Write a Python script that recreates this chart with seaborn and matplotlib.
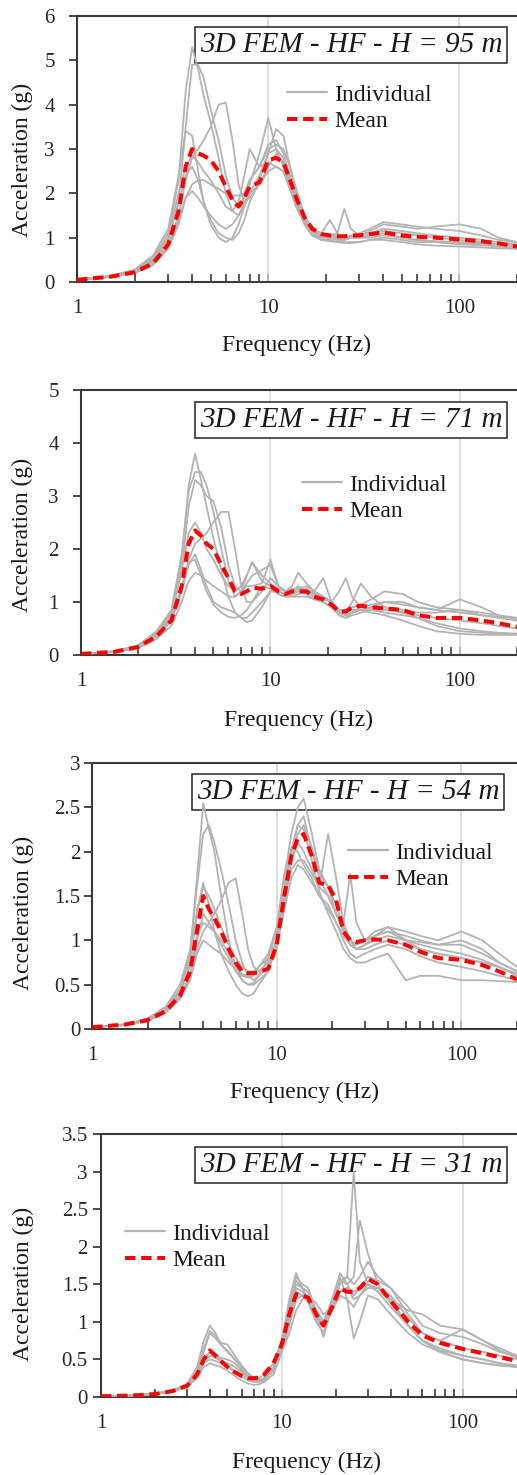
import numpy as np
import pandas as pd
import matplotlib
matplotlib.use("Agg")
import matplotlib.pyplot as plt
from matplotlib.lines import Line2D
from matplotlib.ticker import FixedLocator, LogLocator, NullFormatter
import seaborn as sns

# ---------------- data ----------------
freq = [1, 1.5, 2, 2.5, 3, 3.4, 3.7, 4, 4.3, 4.6, 5, 5.5, 6, 6.5, 7, 7.5, 8, 9, 10, 11,
        12, 13, 14, 15.5, 17, 19, 21, 23, 25, 27, 30, 34, 40, 50, 60, 75, 100, 130, 160, 200]

titles = ["3D FEM - HF - H = 95 m", "3D FEM - HF - H = 71 m",
          "3D FEM - HF - H = 54 m", "3D FEM - HF - H = 31 m"]
ymax = [6, 5, 3, 3.5]
ystep = [1, 1, 0.5, 0.5]
xticks = [1, 10, 100]
xticklabels = ["1", "10", "100"]

# H = 95 m
ind_95 = [
    [0.05,0.13,0.25,0.5,1.1,2.3,4.3,5.3,4.8,4.2,3.6,2.8,2.0,1.6,1.5,1.7,2.0,2.4,2.9,3.0,2.8,2.3,1.8,1.3,1.1,1.0,1.0,0.95,0.95,1.0,1.0,1.05,1.1,1.0,0.95,0.9,0.85,0.83,0.8,0.75],
    [0.05,0.12,0.23,0.45,0.95,1.8,3.5,4.9,4.9,4.6,3.9,3.2,2.4,1.9,1.7,1.9,2.3,2.6,3.1,3.2,2.9,2.4,1.9,1.4,1.15,1.05,1.05,1.0,1.0,1.02,1.05,1.1,1.15,1.1,1.05,1.0,0.95,0.9,0.85,0.8],
    [0.05,0.14,0.28,0.6,1.2,2.4,3.4,3.3,2.5,1.8,1.3,1.0,0.9,1.0,1.3,1.7,2.2,2.9,3.7,3.0,2.6,2.2,1.8,1.4,1.15,1.1,1.4,1.1,1.0,1.0,1.05,1.15,1.3,1.25,1.2,1.25,1.3,1.2,1.0,0.9],
    [0.05,0.12,0.22,0.42,0.85,1.5,2.3,2.8,3.0,3.2,3.5,4.0,4.05,3.2,2.2,1.8,1.9,2.2,2.6,2.9,2.7,2.2,1.8,1.35,1.1,1.0,1.0,0.95,0.95,1.0,1.0,1.0,1.05,1.0,0.95,0.92,0.9,0.88,0.85,0.8],
    [0.05,0.12,0.24,0.5,1.0,1.8,2.4,2.6,2.3,1.8,1.4,1.1,1.0,0.95,1.1,1.4,1.8,2.3,2.9,3.45,3.3,2.6,2.0,1.4,1.15,1.05,1.05,1.1,1.65,1.2,1.05,1.1,1.2,1.15,1.1,1.05,1.0,0.95,0.9,0.85],
    [0.05,0.11,0.2,0.38,0.75,1.3,1.9,2.2,2.3,2.3,2.2,2.1,2.0,1.95,1.95,2.0,2.3,2.6,2.7,2.6,2.5,2.1,1.7,1.3,1.05,0.95,0.95,0.9,0.9,0.9,0.9,0.95,0.95,0.9,0.85,0.82,0.8,0.78,0.76,0.75],
    [0.05,0.13,0.26,0.55,1.1,2.0,2.6,2.85,2.7,2.5,2.3,2.0,1.7,1.6,1.8,2.4,3.0,2.6,3.0,3.1,3.0,2.6,2.1,1.5,1.2,1.1,1.05,1.05,1.0,1.05,1.1,1.2,1.35,1.3,1.25,1.2,1.15,1.05,0.95,0.9],
    [0.05,0.12,0.22,0.4,0.8,1.4,1.9,2.05,1.9,1.7,1.5,1.3,1.2,1.3,1.5,1.8,2.0,2.2,2.5,2.6,2.5,2.1,1.7,1.3,1.05,0.95,0.92,0.9,0.88,0.88,0.9,0.95,1.0,0.95,0.9,0.9,0.88,0.86,0.85,0.82],
]
mean_95 = [0.05,0.12,0.22,0.42,0.85,1.6,2.6,3.0,2.9,2.85,2.75,2.5,2.15,1.85,1.7,1.9,2.15,2.25,2.75,2.8,2.7,2.3,1.9,1.45,1.2,1.08,1.05,1.03,1.03,1.05,1.05,1.08,1.12,1.05,1.02,1.0,0.96,0.92,0.87,0.8]

# H = 71 m
ind_71 = [
    [0.02,0.07,0.17,0.4,0.8,1.8,3.2,3.8,3.3,2.8,2.2,1.6,1.1,0.8,0.7,0.7,0.8,1.0,1.2,1.2,1.15,1.2,1.3,1.2,1.1,1.0,0.9,0.8,0.75,0.8,0.85,0.9,1.0,1.0,0.9,0.85,0.8,0.75,0.72,0.7],
    [0.02,0.07,0.18,0.45,0.85,1.9,3.1,3.45,3.45,3.2,2.7,2.0,1.4,1.1,1.2,1.5,1.75,1.4,1.3,1.15,1.1,1.15,1.2,1.15,1.05,1.0,0.9,0.75,0.7,0.75,0.8,0.85,0.85,0.8,0.75,0.7,0.65,0.6,0.55,0.5],
    [0.02,0.06,0.15,0.35,0.65,1.2,1.8,2.1,2.2,2.3,2.5,2.7,2.7,2.0,1.3,1.0,1.0,1.2,1.45,1.3,1.2,1.3,1.55,1.35,1.2,1.1,1.0,0.8,0.75,0.8,0.85,0.9,0.9,0.85,0.8,0.8,0.85,0.8,0.75,0.7],
    [0.02,0.06,0.16,0.38,0.75,1.6,2.8,3.3,3.2,3.0,2.9,2.4,1.7,1.3,1.2,1.35,1.5,1.6,1.7,1.3,1.2,1.2,1.25,1.3,1.2,1.1,1.0,1.2,1.45,1.1,0.9,0.85,0.8,0.75,0.7,0.6,0.5,0.45,0.42,0.4],
    [0.02,0.06,0.15,0.35,0.65,1.2,1.7,1.9,1.6,1.3,1.0,0.9,0.85,0.8,0.7,0.62,0.65,0.9,1.2,1.2,1.15,1.1,1.1,1.1,1.05,1.0,0.9,0.8,0.8,1.0,1.35,1.1,0.9,0.8,0.7,0.55,0.45,0.42,0.4,0.4],
    [0.02,0.05,0.13,0.3,0.55,1.0,1.4,1.55,1.5,1.4,1.3,1.2,1.1,1.1,1.2,1.3,1.3,1.35,1.8,1.3,1.2,1.2,1.2,1.25,1.15,1.05,1.0,0.85,0.85,0.9,0.95,1.05,1.2,1.15,1.0,0.9,0.85,0.75,0.7,0.65],
    [0.02,0.07,0.18,0.42,0.8,1.6,2.3,2.5,2.3,2.0,1.8,1.5,1.3,1.2,1.3,1.5,1.75,1.5,1.35,1.25,1.2,1.25,1.25,1.2,1.2,1.45,1.0,0.75,0.7,0.8,0.9,0.95,1.0,0.95,0.9,0.85,1.05,0.9,0.75,0.65],
    [0.02,0.06,0.15,0.36,0.7,1.3,1.75,1.8,1.5,1.2,0.95,0.8,0.72,0.7,0.75,0.85,1.0,1.3,1.25,1.15,1.1,1.1,1.15,1.2,1.15,1.1,1.0,0.85,0.8,0.85,0.85,0.8,0.75,0.65,0.55,0.45,0.4,0.38,0.38,0.38],
]
mean_71 = [0.02,0.06,0.15,0.35,0.65,1.3,2.1,2.35,2.25,2.1,2.0,1.7,1.45,1.2,1.15,1.2,1.27,1.25,1.3,1.2,1.15,1.2,1.2,1.2,1.1,1.05,0.95,0.82,0.82,0.9,0.93,0.9,0.88,0.85,0.75,0.7,0.7,0.65,0.6,0.53]

# H = 54 m
ind_54 = [
    [0.02,0.05,0.11,0.22,0.45,0.85,1.7,2.55,2.25,2.0,1.5,1.0,0.7,0.55,0.5,0.5,0.55,0.65,0.95,1.7,2.2,2.5,2.6,2.2,1.8,1.6,1.3,1.1,1.0,0.95,1.0,1.05,1.1,1.0,0.95,0.9,0.85,0.78,0.7,0.62],
    [0.02,0.05,0.12,0.25,0.5,0.9,1.6,2.2,2.3,2.1,1.8,1.4,1.0,0.75,0.6,0.55,0.6,0.7,1.0,1.6,2.0,2.3,2.4,2.0,1.7,1.5,1.3,1.1,0.95,0.9,0.95,1.05,1.15,1.1,1.05,1.0,1.1,1.0,0.85,0.7],
    [0.02,0.05,0.1,0.2,0.38,0.6,0.9,1.1,1.2,1.3,1.45,1.65,1.7,1.3,0.9,0.7,0.65,0.7,0.9,1.4,1.9,2.1,2.0,1.8,1.6,2.2,1.7,1.2,1.0,0.9,0.9,0.95,1.0,0.95,0.9,0.85,0.8,0.75,0.7,0.6],
    [0.02,0.05,0.1,0.2,0.4,0.75,1.3,1.65,1.4,1.1,0.85,0.65,0.5,0.4,0.37,0.4,0.5,0.65,0.95,1.45,1.8,1.9,1.9,1.75,1.6,1.5,1.3,1.2,1.75,1.2,1.0,1.1,1.15,1.0,0.9,0.85,0.8,0.75,0.7,0.62],
    [0.02,0.05,0.1,0.2,0.36,0.6,1.0,1.3,1.2,1.1,0.95,0.8,0.65,0.55,0.5,0.52,0.6,0.8,1.1,1.6,2.0,2.3,2.25,1.9,1.55,1.3,1.1,0.9,0.8,0.75,0.75,0.8,0.85,0.55,0.6,0.6,0.55,0.55,0.54,0.53],
    [0.02,0.04,0.09,0.18,0.34,0.55,0.85,1.0,0.95,0.9,0.85,0.75,0.68,0.62,0.6,0.62,0.65,0.75,0.95,1.35,1.7,1.85,1.8,1.65,1.5,1.4,1.2,1.0,0.85,0.8,0.85,0.9,0.95,0.9,0.82,0.75,0.7,0.65,0.6,0.55],
    [0.02,0.05,0.11,0.22,0.42,0.7,1.05,1.2,1.15,1.1,1.0,0.85,0.7,0.6,0.58,0.6,0.7,0.85,1.15,1.75,2.05,2.0,1.85,1.7,1.5,1.35,1.2,1.05,0.95,0.9,0.95,1.0,1.05,1.0,0.98,0.95,1.0,0.9,0.75,0.65],
    [0.02,0.05,0.11,0.23,0.45,0.8,1.35,1.6,1.5,1.35,1.15,0.95,0.8,0.7,0.65,0.65,0.7,0.8,1.0,1.5,1.9,2.2,2.3,2.05,1.75,1.6,1.4,1.15,1.0,0.95,1.0,1.05,1.1,1.05,1.0,0.95,0.95,0.85,0.75,0.65],
]
mean_54 = [0.02,0.05,0.1,0.2,0.38,0.65,1.1,1.5,1.35,1.25,1.1,0.9,0.75,0.65,0.63,0.63,0.64,0.68,0.95,1.5,1.95,2.15,2.2,1.95,1.65,1.62,1.45,1.1,1.0,0.98,1.0,1.01,1.0,0.95,0.87,0.8,0.78,0.72,0.65,0.56]

# H = 31 m
ind_31 = [
    [0.01,0.02,0.05,0.09,0.18,0.4,0.75,0.95,0.85,0.7,0.6,0.5,0.4,0.3,0.25,0.25,0.3,0.45,0.75,1.3,1.65,1.45,1.3,1.0,0.85,1.2,1.5,1.6,3.0,1.8,1.5,1.4,1.2,0.95,0.75,0.65,0.55,0.5,0.45,0.4],
    [0.01,0.02,0.04,0.08,0.16,0.35,0.65,0.88,0.82,0.72,0.7,0.55,0.42,0.32,0.25,0.22,0.25,0.4,0.7,1.25,1.6,1.5,1.45,1.15,1.0,1.3,1.55,1.5,1.6,2.35,1.9,1.5,1.25,0.95,0.75,0.6,0.5,0.45,0.42,0.4],
    [0.01,0.02,0.04,0.08,0.15,0.3,0.5,0.6,0.55,0.5,0.42,0.35,0.3,0.25,0.22,0.22,0.25,0.4,0.65,1.1,1.5,1.45,1.4,1.1,0.8,1.2,1.6,1.3,0.78,1.0,1.35,1.3,1.1,0.85,0.7,0.6,0.5,0.45,0.42,0.4],
    [0.01,0.02,0.04,0.08,0.15,0.3,0.45,0.5,0.48,0.45,0.4,0.33,0.27,0.22,0.2,0.2,0.24,0.35,0.6,0.95,1.3,1.35,1.35,1.15,1.0,1.25,1.55,1.6,1.5,1.6,1.8,1.6,1.45,1.1,0.85,0.75,0.65,0.6,0.55,0.5],
    [0.01,0.02,0.04,0.07,0.14,0.25,0.4,0.45,0.42,0.4,0.35,0.28,0.22,0.18,0.16,0.17,0.2,0.3,0.6,0.85,1.15,1.3,1.35,1.25,1.1,1.2,1.4,1.45,1.4,1.45,1.5,1.4,1.3,1.15,1.1,0.95,0.9,0.75,0.65,0.55],
    [0.01,0.02,0.04,0.08,0.16,0.33,0.6,0.85,0.78,0.7,0.62,0.5,0.38,0.28,0.22,0.2,0.22,0.35,0.65,1.2,1.55,1.45,1.4,1.1,0.95,1.3,1.65,1.5,1.35,1.45,1.6,1.55,1.45,1.2,0.95,0.85,0.8,0.7,0.6,0.55],
    [0.01,0.02,0.04,0.08,0.15,0.3,0.48,0.55,0.52,0.48,0.45,0.4,0.33,0.27,0.22,0.21,0.24,0.38,0.65,1.1,1.45,1.4,1.3,1.05,0.95,1.2,1.4,1.45,1.3,1.35,1.45,1.45,1.35,1.05,0.85,0.75,0.9,0.75,0.62,0.52],
    [0.01,0.02,0.04,0.08,0.15,0.3,0.5,0.6,0.57,0.52,0.5,0.45,0.35,0.27,0.22,0.2,0.22,0.35,0.6,1.0,1.4,1.35,1.25,1.0,0.95,1.15,1.35,1.3,1.2,1.35,1.5,1.45,1.3,0.95,0.75,0.62,0.55,0.5,0.45,0.42],
]
mean_31 = [0.01,0.02,0.04,0.08,0.15,0.3,0.5,0.62,0.55,0.48,0.4,0.33,0.28,0.25,0.25,0.26,0.3,0.45,0.7,1.1,1.37,1.35,1.32,1.1,0.95,1.2,1.45,1.4,1.4,1.45,1.57,1.5,1.28,1.0,0.82,0.72,0.64,0.58,0.53,0.48]

individuals = [ind_95, ind_71, ind_54, ind_31]
means = [mean_95, mean_71, mean_54, mean_31]

# ---------------- layout (pixels) ----------------
W, H = 517, 1475
ax_px = [(77, 16, 282), (81, 390, 655), (92, 763, 1029), (101, 1134, 1397)]  # left, top, bottom
title_c = [(351, 45), (351, 420), (348, 792), (351, 1165)]
leg_pos = [(287, 98), (302, 488), (348, 856), (125, 1237)]
ylab_c = [(22, 160), (22, 535), (23, 913), (23, 1284)]
xlab_c = [(296, 345), (298, 720), (304, 1092), (306, 1462)]
ypad = [10, 10, 2.5, 3.5]

sns.set_theme(style="ticks")
serif = ["Liberation Serif", "DejaVu Serif"]
plt.rcParams["font.family"] = serif
plt.rcParams["text.color"] = "#1a1a1a"

fig = plt.figure(figsize=(W / 100, H / 100), dpi=100)
fig.patch.set_facecolor("white")

gray = "#b3b3b3"
spine_c = "#3a3a3a"

for k in range(4):
    left, top, bottom = ax_px[k]
    ax = fig.add_axes([left / W, 1 - bottom / H, (W - left) / W, (bottom - top) / H])
    ax.set_facecolor("white")

    rows = []
    for r, vals in enumerate(individuals[k]):
        for f, v in zip(freq, vals):
            rows.append((f, v, r))
    df = pd.DataFrame(rows, columns=["freq", "acc", "run"])
    sns.lineplot(data=df, x="freq", y="acc", units="run", estimator=None,
                 color=gray, lw=1.3, ax=ax, zorder=3, legend=False)
    sns.lineplot(x=freq, y=means[k], color="#ff0000", lw=2.9, ax=ax, zorder=4,
                 dashes=False, legend=False)
    ax.lines[-1].set_dashes((2.6, 1.4))

    ax.set_xscale("log")
    ax.set_xlim(1, 200)
    ax.set_ylim(0, ymax[k])
    ax.xaxis.set_major_locator(FixedLocator(xticks))
    ax.set_xticklabels(xticklabels)
    ax.xaxis.set_minor_locator(LogLocator(base=10, subs=np.arange(2, 10)))
    ax.xaxis.set_minor_formatter(NullFormatter())
    yt = np.arange(0, ymax[k] + 1e-9, ystep[k])
    ax.set_yticks(yt)
    ax.set_yticklabels([("%g" % v) for v in yt])

    ax.tick_params(axis="x", which="both", direction="in", length=6, width=1.2,
                   color=spine_c, pad=12, labelsize=15)
    ax.tick_params(axis="y", which="major", direction="out", length=6, width=1.3,
                   color=spine_c, pad=ypad[k], labelsize=15)
    ax.set_xlabel("")
    ax.set_ylabel("")

    for s in ["left", "bottom", "top"]:
        ax.spines[s].set_visible(True)
        ax.spines[s].set_color(spine_c)
        ax.spines[s].set_linewidth(1.5)
    ax.spines["right"].set_visible(False)

    for gx in [10, 100]:
        ax.axvline(gx, color="#d4d4d4", lw=1.1, zorder=1)

    # title box
    tx, ty = title_c[k]
    ax.text(tx / W, 1 - ty / H, titles[k], transform=fig.transFigure,
            ha="center", va="center", fontsize=21, style="italic",
            family=serif, zorder=2, clip_on=False,
            bbox=dict(boxstyle="square,pad=0.17", fc="white", ec="#222222", lw=1.1))

    # legend
    lx, ly = leg_pos[k]
    handles = [Line2D([], [], color=gray, lw=1.6),
               Line2D([], [], color="#ff0000", lw=2.9, dashes=(2.6, 1.4))]
    leg = ax.legend(handles, ["Individual", "Mean"], loc="upper left",
                    bbox_to_anchor=(lx / W, 1 - (ly - 14) / H),
                    bbox_transform=fig.transFigure, frameon=False,
                    borderpad=0, borderaxespad=0, handlelength=1.7,
                    handletextpad=0.3, labelspacing=0.2, fontsize=17)
    leg.set_zorder(5)

    yx, yy = ylab_c[k]
    fig.text(yx / W, 1 - yy / H, "Acceleration (g)", rotation=90,
             ha="center", va="center", fontsize=17)
    xx, xy = xlab_c[k]
    fig.text(xx / W, 1 - xy / H, "Frequency (Hz)", ha="center", va="center",
             fontsize=17)

fig.savefig("out.png", dpi=100, facecolor="white")
